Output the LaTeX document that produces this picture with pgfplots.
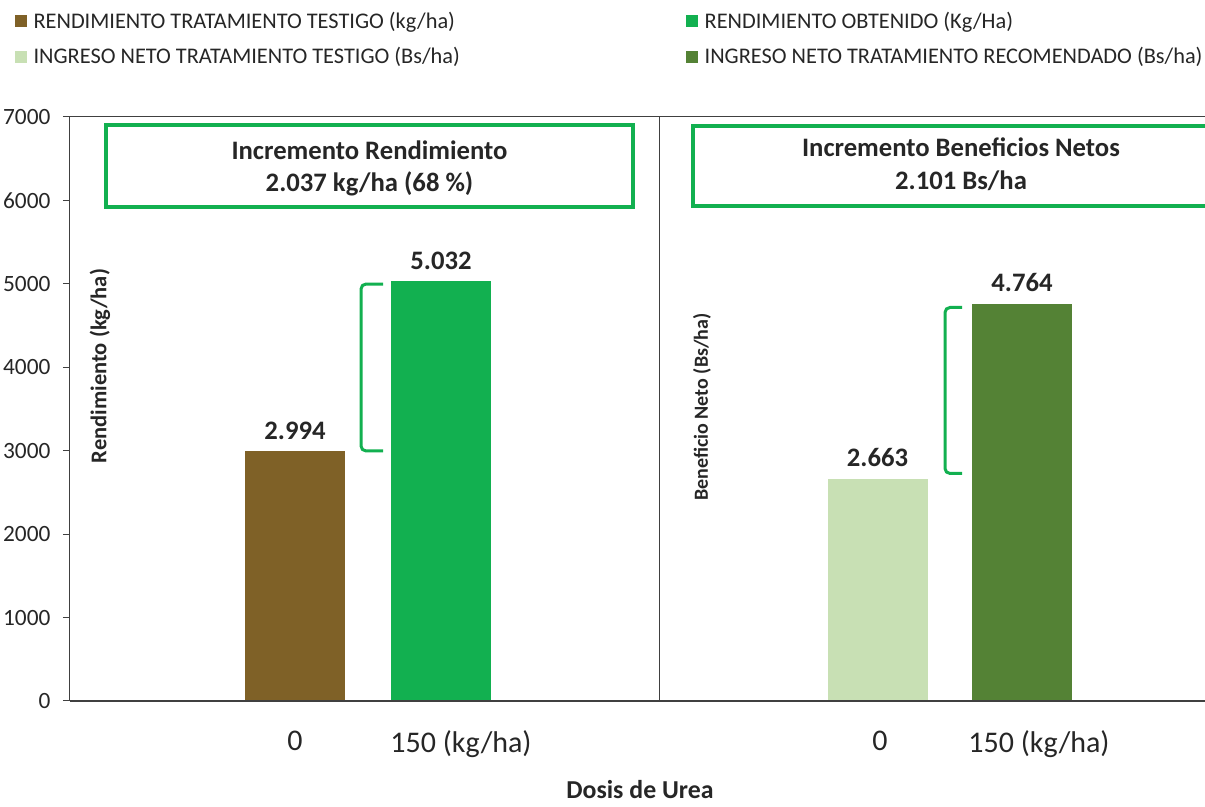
\documentclass[border=0pt]{standalone}
\usepackage{pgfplots}
\pgfplotsset{compat=1.18}
\usepackage{fontspec}
\setmainfont{Carlito}
\definecolor{cBrown}{HTML}{7F6127}
\definecolor{cGreen}{HTML}{12B050}
\definecolor{cLight}{HTML}{C8E0B4}
\definecolor{cDark}{HTML}{548235}
\definecolor{cBox}{HTML}{12B050}
\definecolor{cTxt}{HTML}{262626}
\definecolor{cAx}{HTML}{404040}
\begin{document}
\begin{tikzpicture}[x=1pt,y=1pt]
\begin{axis}[
  at={(0pt,0pt)}, anchor=south west,
  scale only axis, width=681pt, height=350.4pt,
  xmin=0, xmax=11.35, ymin=0, ymax=7000,
  axis line style={draw=none},
  clip=false,
  ytick={0,1000,...,7000},
  ytick pos=left, tick align=outside,
  major tick length=4.2pt,
  ytick style={cAx, line width=0.6pt},
  xtick={2.25,3.91,8.10,9.69},
  xticklabels={0,150 (kg/ha),0,150 (kg/ha)},
  xtick style={draw=none},
  x tick label style={font=\fontsize{18}{18}\selectfont, text=cTxt, yshift=-10pt},
  y tick label style={font=\fontsize{14}{14}\selectfont, text=cTxt, xshift=-4pt},
  /pgf/number format/assume math mode=true,
  /pgf/number format/1000 sep={},
  scaled y ticks=false,
  legend columns=2,
  legend style={draw=none, fill=none, at={(-0.049,1.185)}, anchor=north west,
    font=\fontsize{13.4}{13.4}\selectfont, text=cTxt, inner sep=0pt, row sep=7pt,
    /tikz/every even column/.append style={column sep=134pt}, nodes={inner sep=1.5pt}},
  legend cell align=left,
  sq/.style={legend image code/.code={\fill[##1,draw=none] (0pt,-3.6pt) rectangle (7.2pt,3.6pt); \path (9.8pt,0pt);}},
  nodes near coords={\pgfmathprintnumber[1000 sep={.}]{\pgfplotspointmeta}},
  every node near coord/.append style={font=\bfseries\fontsize{16}{16}\selectfont, text=cTxt, yshift=3.5pt},
]
\addplot[ybar, bar width=1, fill=cBrown, draw=none, sq] coordinates {(2.25,2994)};
\addlegendentry{RENDIMIENTO TRATAMIENTO TESTIGO (kg/ha)}
\addplot[ybar, bar width=1, fill=cGreen, draw=none, sq] coordinates {(3.71,5032)};
\addlegendentry{RENDIMIENTO OBTENIDO (Kg/Ha)}
\addplot[ybar, bar width=1, fill=cLight, draw=none, sq] coordinates {(8.075,2663)};
\addlegendentry{INGRESO NETO TRATAMIENTO TESTIGO (Bs/ha)}
\addplot[ybar, bar width=1, fill=cDark, draw=none, sq] coordinates {(9.52,4764)};
\addlegendentry{INGRESO NETO TRATAMIENTO RECOMENDADO (Bs/ha)}

% axis lines
\draw[cAx, line width=0.6pt] (axis cs:0,0) -- (axis cs:0,7000) -- (axis cs:11.35,7000);
\draw[cAx, line width=0.6pt] (axis cs:5.89,0) -- (axis cs:5.89,7000);
\draw[cAx, line width=1.5pt] (axis cs:0,0) -- (axis cs:11.35,0);

% boxes
\draw[cBox, line width=2.4pt] (axis cs:0.36,5921) rectangle (axis cs:5.63,6904);
\draw[cBox, line width=2.4pt] (axis cs:6.23,5939) rectangle (axis cs:11.57,6898);
\node[font=\bfseries\fontsize{16}{16}\selectfont, text=cTxt] at (axis cs:2.995,6604) {Incremento Rendimiento};
\node[font=\bfseries\fontsize{16}{16}\selectfont, text=cTxt] at (axis cs:2.995,6197) {2.037 kg/ha (68 \%)};
\node[font=\bfseries\fontsize{16}{16}\selectfont, text=cTxt] at (axis cs:8.91,6640) {Incremento Beneficios Netos};
\node[font=\bfseries\fontsize{16}{16}\selectfont, text=cTxt] at (axis cs:8.91,6233) {2.101 Bs/ha};

% brackets
\draw[cBox, line width=1.8pt, rounded corners=3pt] (axis cs:3.13,4998) -- (axis cs:2.91,4998) -- (axis cs:2.91,2997) -- (axis cs:3.13,2997);
\draw[cBox, line width=1.8pt, rounded corners=3pt] (axis cs:8.92,4717) -- (axis cs:8.75,4717) -- (axis cs:8.75,2727) -- (axis cs:8.92,2727);

% labels
\node[rotate=90, font=\bfseries\fontsize{13.5}{13.5}\selectfont, text=cTxt] at (axis cs:0.30,4015) {Rendimiento (kg/ha)};
\node[rotate=90, font=\bfseries\fontsize{12}{12}\selectfont, text=cTxt] at (axis cs:6.32,3524) {Beneficio Neto (Bs/ha)};
\node[font=\bfseries\fontsize{15.5}{15.5}\selectfont, text=cTxt, anchor=base, inner sep=0pt, yshift=-58.5pt] at (axis cs:5.70,0) {Dosis de Urea};
\end{axis}
\pgfresetboundingbox
\path[use as bounding box] (-42pt,-63.6pt) rectangle (681pt,420.6pt);
\end{tikzpicture}
\end{document}
